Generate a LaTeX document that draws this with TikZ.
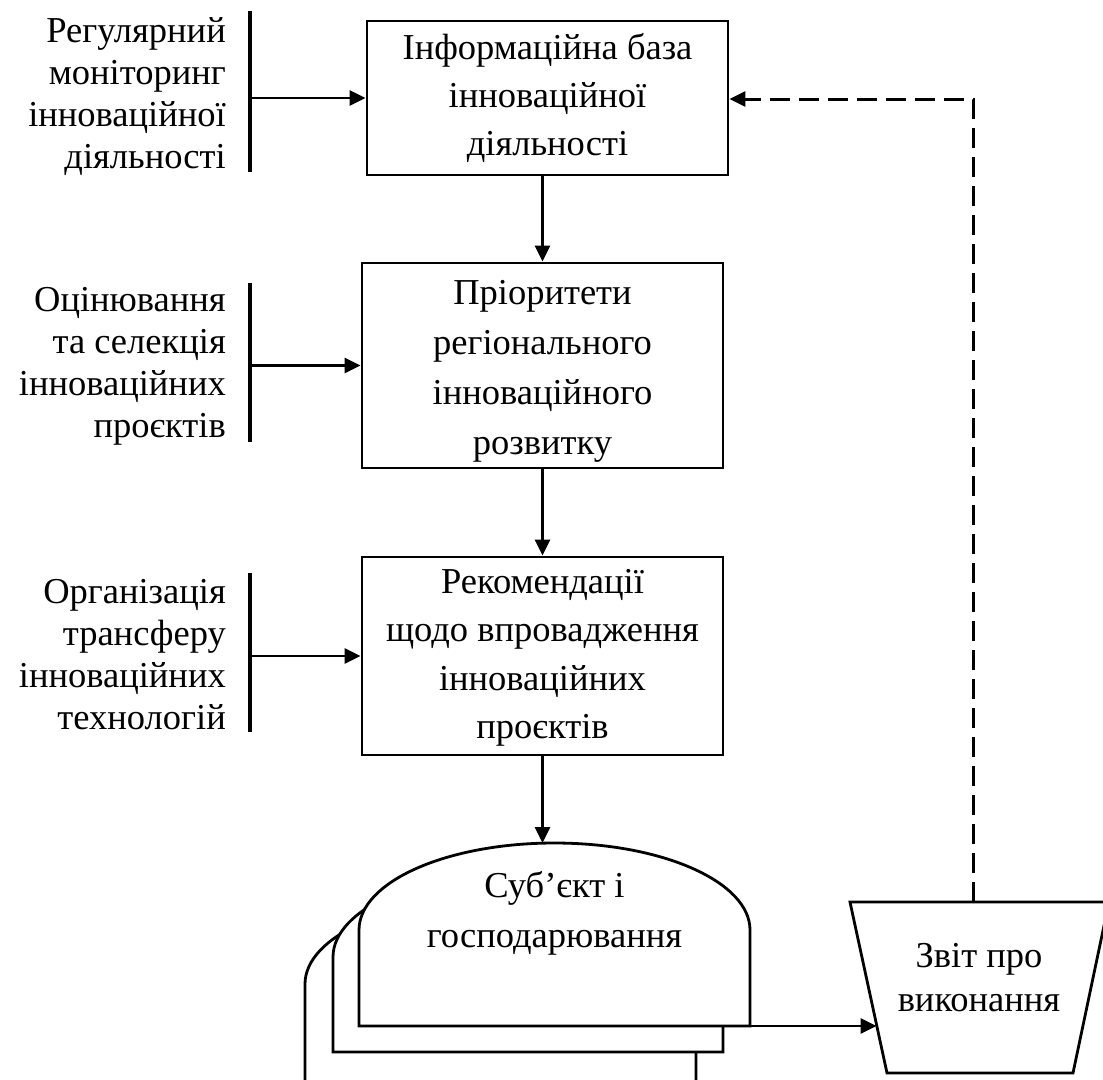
\documentclass[tikz,border=0pt]{standalone}
\usepackage{fontspec}
\setmainfont{Liberation Serif}
\usetikzlibrary{arrows.meta}
\begin{document}
\begin{tikzpicture}[x=1pt,y=1pt,
  box/.style={draw, line width=2.8pt, minimum width=361pt, inner sep=0pt, align=center, font=\fontsize{36.5}{48}\selectfont},
  lbl/.style={align=right, anchor=east, inner sep=0pt, font=\fontsize{36.5}{42}\selectfont},
  txt/.style={align=center, inner sep=0pt},
  bar/.style={line width=4pt},
  arr/.style={line width=2.8pt, -{Triangle[length=16pt,width=15pt]}},
  dsh/.style={line width=3pt, dash pattern=on 20pt off 9pt, -{Triangle[length=16pt,width=15pt]}},
  shp/.style={draw, line width=2.8pt, fill=white}]
\useasboundingbox (0,0) rectangle (1103,-1079);
\clip (0,0) rectangle (1103,-1079);

% main boxes
\node[box, minimum height=154pt] (b1) at (547.5,-98) {Інформаційна база\\інноваційної\\діяльності};
\node[box, minimum height=205pt] (b2) at (542.5,-365.5) {};
\node[txt, font=\fontsize{36.5}{50}\selectfont] (b2t) at (542.5,-371) {Пріоритети\\регіонального\\інноваційного\\розвитку};
\node[box, minimum height=198pt] (b3) at (542.5,-656) {};
\node[txt, font=\fontsize{36.5}{48.5}\selectfont] (b3t) at (542.5,-658) {Рекомендації\\щодо впровадження\\інноваційних\\проєктів};

% side labels
\node[lbl] (l1) at (226,-97) {Регулярний\\моніторинг\\інноваційної\\діяльності};
\node[lbl] (l2) at (226,-366) {Оцінювання\\та селекція\\інноваційних\\проєктів};
\node[lbl] (l3) at (226,-655) {Організація\\трансферу\\інноваційних\\технологій};

% bars
\coordinate (t1) at (250,-11);  \coordinate (u1) at (250,-172);
\coordinate (t2) at (250,-283); \coordinate (u2) at (250,-442);
\coordinate (t3) at (250,-573); \coordinate (u3) at (250,-732);
\draw[bar] (t1) -- (u1);
\draw[bar] (t2) -- (u2);
\draw[bar] (t3) -- (u3);
\coordinate (a1) at (250,-98);
\coordinate (a2) at (250,-365.5);
\coordinate (a3) at (250,-656);
\draw[arr] (a1) -- (b1.west);
\draw[arr] (a2) -- (b2.west);
\draw[arr] (a3) -- (b3.west);

% vertical flow
\draw[arr] (b2.north |- b1.south) -- (b2.north);
\draw[arr] (b3.north |- b2.south) -- (b3.north);
\coordinate (dtop) at (542.5,-843);
\draw[arr] (b3.south) -- (dtop);

% stacked subject shapes
\draw[shp] (305,-1110) -- (305,-984) arc[start angle=180,end angle=0,x radius=195.5pt,y radius=87pt] -- (696,-1110) -- cycle;
\draw[shp] (333,-1052) -- (333,-957) arc[start angle=180,end angle=0,x radius=195pt,y radius=87pt] -- (723,-1052) -- cycle;
\draw[shp] (359,-1026) -- (359,-930) arc[start angle=180,end angle=0,x radius=195.5pt,y radius=87pt] -- (750,-1026) -- cycle;
\node[txt, font=\fontsize{36.5}{50}\selectfont] (subj) at (554.5,-913) {Суб’єкт і\\господарювання};
\coordinate (fbr) at (750,-1026);

% report trapezoid
\draw[shp] (850,-902) -- (1109,-902) -- (1073,-1073) -- (887,-1073) -- cycle;
\node[txt, font=\fontsize{36.5}{44}\selectfont] (rep) at (979,-978) {Звіт про\\виконання};
\coordinate (tin) at (876.5,-1026);
\draw[arr] (fbr) -- (tin);

% feedback
\coordinate (ttop) at (973,-902);
\coordinate (corner) at (973,-99);
\draw[dsh] (ttop) -- (corner) -- (b1.east |- corner);
\end{tikzpicture}
\end{document}
